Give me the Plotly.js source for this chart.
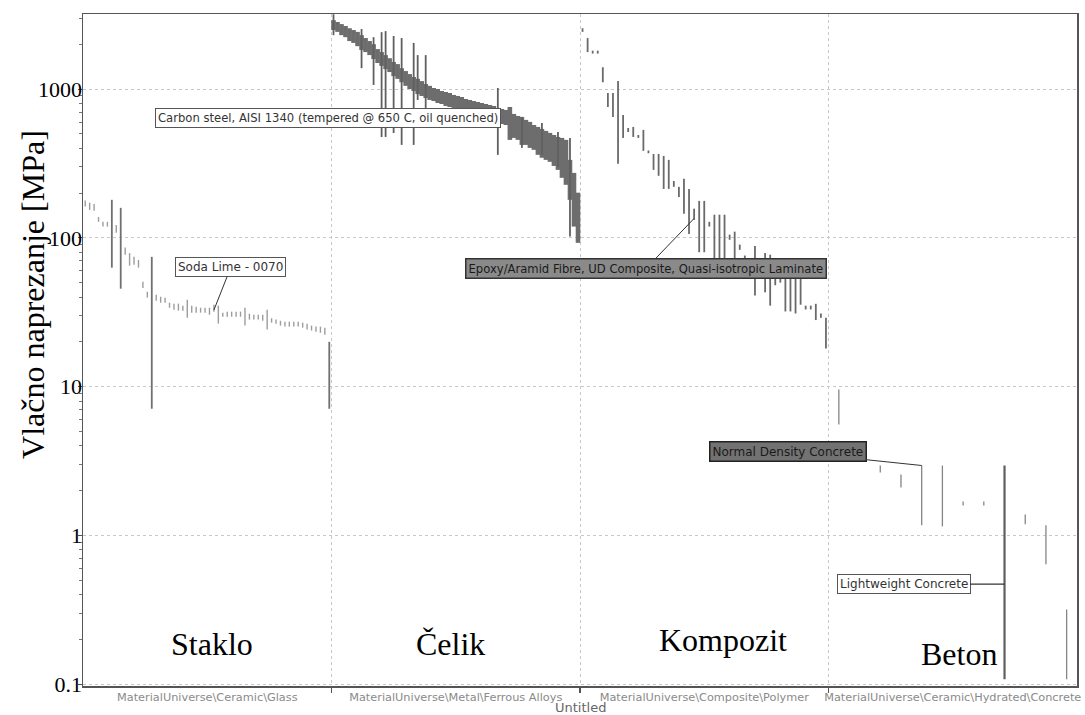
<!DOCTYPE html>
<html>
<head>
<meta charset="utf-8">
<script src="https://cdn.plot.ly/plotly-3.0.1.min.js"></script>
<style>html,body{margin:0;padding:0;background:#fff;}#chart{width:1085px;height:715px;}</style>
</head>
<body>
<div id="chart"></div>
<script>
// ---- categories / labels ----
const categories = ['MaterialUniverse\\Ceramic\\Glass', 'MaterialUniverse\\Metal\\Ferrous Alloys',
                    'MaterialUniverse\\Composite\\Polymer', 'MaterialUniverse\\Ceramic\\Hydrated\\Concrete'];
const groupNames = ['Staklo', 'Čelik', 'Kompozit', 'Beton'];
const yTickVals = [0.1, 1, 10, 100, 1000];
const yTickText = ['0.1', '1', '10', '100', '1000'];

// ---- Glass (MPa, min / max per material) ----
const glassLow  = [162,154,152,128,119,119,63,108,45.5,77, 65,66,63,46,39.6,7.1,37.7,36.6,36.6,33.9,
                   32.9,32.4,32.4,29.0,31.4,31.4,31.4,31.4,30.4,31.9, 26.5,29.5,29.5,29.5,29.5,29.5,25.7,28.2,28.2,28.2,
                   27.7,24.2,26.9,26.5,25.7,25.3,25.3,25.3,25.3,24.9, 24.2,23.8,23.4,23.0,22.3,7.1];
const glassHigh = [178,172,169,138,128,128,180,122,159,86, 79,74.5,71,50.7,43.4,74.5,41.4,40.2,39.6,36.6,
                   36.1,36.1,35.0,38.4,35.0,34.4,33.9,33.9,33.9,35.5, 35.0,31.4,31.9,31.9,31.9,31.9,33.9,30.9,30.4,30.4,
                   30.4,32.9,28.8,28.2,27.7,27.3,27.3,27.3,27.3,26.9, 26.5,25.7,25.3,25.3,24.9,20.0];

// ---- Ferrous alloys (steel) ----
const steelLow  = [2490,2420,2300,2230,2100,2040,1940,1830,1770,1690, 1590,1495,1430,1360,1300,1220,1170,1110,1050,1000,
                   970,925,898,870,844,830,805,793,769,757, 746,723,712,690,680,669,649,639,629,620,
                   610,591,582,573,455,469,455,421,421,402, 390,361,345,334,324,304,286,253,227,180, 119,92.5];
const steelHigh = [2900,2820,2730,2650,2560,2490,2420,2300,2200,2100, 2000,1855,1770,1690,1610,1520,1470,1380,1320,1260,
                   1205,1170,1130,1080,1050,1016,1000,970,955,940, 912,898,884,857,844,830,818,805,793,781,
                   769,746,734,723,757,680,659,649,620,601, 573,556,539,523,507,491,476,469,455,334, 273,201];
// steel grades with a wide strength range (index within the steel list)
const steelWideIdx  = [0,7,10,12,13,15,17,20,21,23,41,47,52,56,59];
const steelWideLow  = [2300,1380,1065,476,476,506,421,421,844,746,361,402,361,300,102];
const steelWideHigh = [3180,2530,2230,2410,2450,2270,2200,2040,1690,1690,1016,649,591,514,469];

// ---- Polymer composites ----
const compLow  = [2420,1770,1730,1730,1110,757,649,314,469,514, 476,469,384,370,286,261,213,213,220,188,
                  145,106,132,80,80,119,69,69,69,97, 69,83,71,null,41,null,43,35,48,50,
                  32,32,31,35.5,33,33,28,29,18];
const compHigh = [2560,2200,1810,1810,1400,940,940,1130,669,547, 556,491,531,386,366,366,355,334,241,220,
                  249,213,157,177,177,128,143,143,143,105, 110,90,76,null,88,null,79,77,71,68,
                  66,66,66,64,35,35,36,31,29];

// ---- Concrete ----
const concLow  = [5.56,null,2.65,2.10,1.17,1.15,1.59,1.59,0.108,1.19,0.64,0.108];
const concHigh = [9.55,null,2.95,2.57,2.95,2.95,1.69,1.69,2.95,1.38,1.17,0.318];

// ---- helpers ----
function pos(cat, N, i) { return cat + (i + 0.5) / N; }
function segs(cat, lows, highs, pick, idx, N) {
  const x = [], y = [];
  const n = N || lows.length;
  lows.forEach((lo, k) => {
    const hi = highs[k];
    if (lo == null || hi == null) return;
    if (pick && !pick(lo, hi)) return;
    const p = pos(cat, n, idx ? idx[k] : k);
    x.push(p, p, null); y.push(lo, hi, null);
  });
  return {x, y};
}
function tr(d, color, width) {
  return {type: 'scatter', mode: 'lines', x: d.x, y: d.y, connectgaps: false,
          line: {color: color, width: width}, hoverinfo: 'skip', showlegend: false};
}

const traces = [
  tr(segs(0, glassLow, glassHigh, (l, h) => h / l < 2.5), '#9d9d9d', 1.4),
  tr(segs(0, glassLow, glassHigh, (l, h) => h / l >= 2.5), '#707070', 1.8),
  tr(segs(1, steelLow, steelHigh), '#6d6d6d', 4.6),
  tr(segs(1, steelWideLow, steelWideHigh, null, steelWideIdx, steelLow.length), '#606060', 1.8),
  tr(segs(2, compLow, compHigh), '#6a6a6a', 1.8),
  tr(segs(3, concLow, concHigh, (l, h) => h / l < 10), '#858585', 1.3),
  tr(segs(3, concLow, concHigh, (l, h) => h / l >= 10), '#5e5e5e', 2.2)
];

const serif = 'Liberation Serif, Times New Roman, serif';
const boxFontW = {family: 'DejaVu Sans', size: 11.6, color: '#333'};
const groupFont = {family: serif, size: 32, color: '#000'};

const annotations = [
  // group names
  {text: groupNames[0], x: 0.519, y: 0.063, xref: 'x', yref: 'paper', yanchor: 'middle', showarrow: false, font: groupFont},
  {text: groupNames[1], x: 1.48, y: 0.063, xref: 'x', yref: 'paper', yanchor: 'middle', showarrow: false, font: groupFont},
  {text: groupNames[2], x: 2.575, y: 0.068, xref: 'x', yref: 'paper', yanchor: 'middle', showarrow: false, font: groupFont},
  {text: groupNames[3], x: 3.525, y: 0.047, xref: 'x', yref: 'paper', yanchor: 'middle', showarrow: false, font: groupFont},
  // y title
  {text: 'Vlačno naprezanje [MPa]', xref: 'paper', yref: 'paper', x: 0, xshift: -50, xanchor: 'center',
   y: 0.582, yanchor: 'middle', textangle: -90, showarrow: false, font: {family: serif, size: 32, color: '#000'}},
  // x title
  {text: 'Untitled', xref: 'paper', yref: 'paper', x: 0.5, y: 0, yanchor: 'middle', yshift: -21, showarrow: false,
   font: {family: 'DejaVu Sans', size: 13, color: '#666'}},
  // material labels
  {text: 'Carbon steel, AISI 1340 (tempered @ 650 C, oil quenched)', xref: 'x', yref: 'y',
   x: 0.984, y: 2.803, showarrow: false, bgcolor: '#fff', bordercolor: '#555', borderwidth: 1, borderpad: 2, font: boxFontW},
  {text: 'Soda Lime - 0070', xref: 'x', yref: 'y', x: pos(0, glassLow.length, 29), y: Math.log10(32.7),
   ax: 17, ay: -43, showarrow: true, arrowhead: 0, arrowwidth: 1, arrowcolor: '#333', standoff: 0,
   bgcolor: '#fff', bordercolor: '#555', borderwidth: 1, borderpad: 2, font: {family: 'DejaVu Sans', size: 12, color: '#333'}},
  {text: 'Epoxy/Aramid Fibre, UD Composite, Quasi-isotropic Laminate', xref: 'x', yref: 'y',
   x: pos(2, compLow.length, 22), y: Math.log10(135), ax: -48, ay: 50, showarrow: true, arrowhead: 0, arrowwidth: 1,
   arrowcolor: '#333', standoff: 0, bgcolor: '#8a8a8a', bordercolor: '#333', borderwidth: 1.5, borderpad: 2,
   font: {family: 'DejaVu Sans', size: 11.6, color: '#1a1a1a'}},
  {text: 'Normal Density Concrete', xref: 'x', yref: 'y', x: pos(3, concLow.length, 4), y: Math.log10(2.95),
   ax: -134, ay: -14, showarrow: true, arrowhead: 0, arrowwidth: 1, arrowcolor: '#333', standoff: 0,
   bgcolor: '#727272', bordercolor: '#222', borderwidth: 1.5, borderpad: 2,
   font: {family: 'DejaVu Sans', size: 12, color: '#1a1a1a'}},
  {text: 'Lightweight Concrete', xref: 'x', yref: 'y', x: pos(3, concLow.length, 8), y: Math.log10(0.47),
   ax: -101, ay: 0, showarrow: true, arrowhead: 0, arrowwidth: 1.2, arrowcolor: '#333', standoff: 0,
   bgcolor: '#fff', bordercolor: '#555', borderwidth: 1, borderpad: 2, font: {family: 'DejaVu Sans', size: 12, color: '#333'}}
];

const layout = {
  width: 1085, height: 715,
  margin: {l: 83, r: 8, t: 14, b: 29},
  paper_bgcolor: '#fff', plot_bgcolor: '#fff',
  showlegend: false,
  xaxis: {
    range: [0, 4], tickmode: 'array', tickvals: [0.5, 1.5, 2.5, 3.5], ticktext: categories,
    ticks: '', showgrid: false, zeroline: false, showline: true, linecolor: '#555', linewidth: 1.5, mirror: true,
    tickfont: {family: 'DejaVu Sans', size: 11.3, color: '#8a8a8a'},
    minor: {tickmode: 'array', tickvals: [1, 2, 3], ticks: 'outside', ticklen: 5, tickcolor: '#555', tickwidth: 1.5,
            showgrid: true, gridcolor: '#c8c8c8', griddash: 'dot', gridwidth: 1}
  },
  yaxis: {
    type: 'log', range: [-1.012, 3.504], tickmode: 'array', tickvals: yTickVals, ticktext: yTickText,
    ticks: 'outside', ticklen: 4, tickcolor: '#555', showgrid: true, gridcolor: '#c8c8c8', griddash: 'dot', gridwidth: 1,
    showline: true, linecolor: '#555', linewidth: 1.5, mirror: true, zeroline: false,
    tickfont: {family: serif, size: 22, color: '#000'}, ticklabelstandoff: -9,
    minor: {dtick: 'D1', ticks: 'outside', ticklen: 3, tickcolor: '#777', showgrid: false}
  },
  annotations: annotations
};

Plotly.newPlot('chart', traces, layout, {staticPlot: true, displayModeBar: false});
</script>
</body>
</html>
